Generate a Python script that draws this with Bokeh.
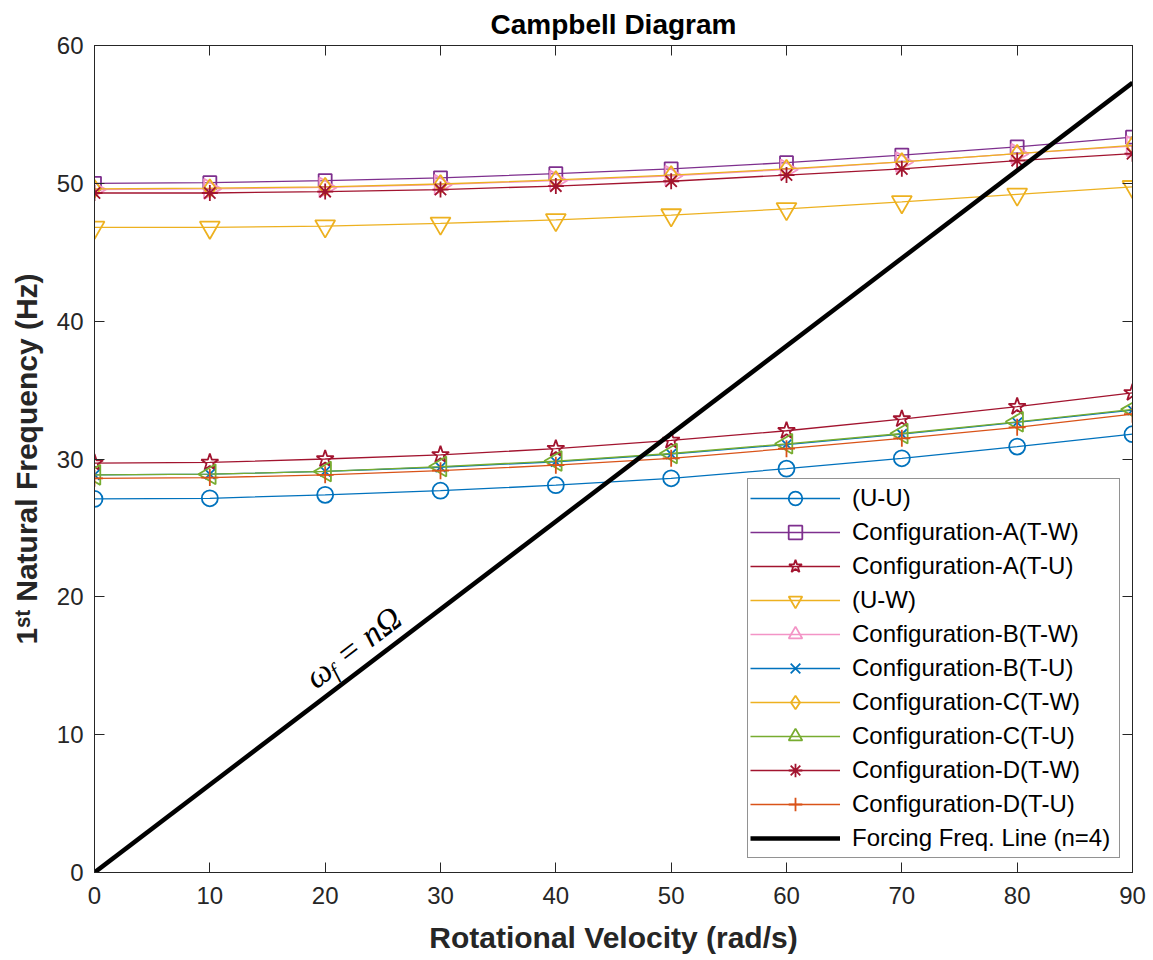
import math
from bokeh.plotting import figure
from bokeh.models import (LinearAxis, Legend, LegendItem, Label, FixedTicker,
                          Range1d)
from bokeh.embed import file_html
from bokeh.resources import INLINE

# ---------------- data ----------------
omega = [0, 10, 20, 30, 40, 50, 60, 70, 80, 90]

uu   = [27.10, 27.15, 27.40, 27.70, 28.10, 28.60, 29.30, 30.05, 30.90, 31.80]
a_tw = [50.00, 50.05, 50.20, 50.40, 50.70, 51.05, 51.50, 52.05, 52.65, 53.35]
a_tu = [29.70, 29.75, 30.00, 30.30, 30.75, 31.35, 32.05, 32.90, 33.80, 34.80]
uw   = [46.80, 46.80, 46.90, 47.10, 47.35, 47.70, 48.15, 48.65, 49.20, 49.75]
b_tw = [49.55, 49.60, 49.70, 49.90, 50.20, 50.55, 51.00, 51.55, 52.15, 52.70]
b_tu = [28.85, 28.90, 29.10, 29.40, 29.80, 30.35, 31.05, 31.80, 32.65, 33.55]
c_tw = [49.60, 49.65, 49.75, 49.95, 50.25, 50.60, 51.05, 51.55, 52.15, 52.75]
c_tu = [28.85, 28.90, 29.10, 29.45, 29.85, 30.40, 31.10, 31.85, 32.70, 33.60]
d_tw = [49.30, 49.30, 49.40, 49.55, 49.80, 50.15, 50.60, 51.05, 51.65, 52.15]
d_tu = [28.60, 28.65, 28.85, 29.15, 29.55, 30.05, 30.75, 31.50, 32.30, 33.25]

forcing_x = [0, 90]
forcing_y = [0, 57.3]

labels = ["(U-U)", "Configuration-A(T-W)", "Configuration-A(T-U)", "(U-W)",
          "Configuration-B(T-W)", "Configuration-B(T-U)", "Configuration-C(T-W)",
          "Configuration-C(T-U)", "Configuration-D(T-W)", "Configuration-D(T-U)"]
forcing_label = "Forcing Freq. Line (n=4)"

x_ticks = [0, 10, 20, 30, 40, 50, 60, 70, 80, 90]
y_ticks = [0, 10, 20, 30, 40, 50, 60]

# ---------------- styles ----------------
series = [uu, a_tw, a_tu, uw, b_tw, b_tu, c_tw, c_tu, d_tw, d_tu]
colors = ["#0072BD", "#7E2F8E", "#A2142F", "#EDB120", "#F394C6",
          "#0072BD", "#EDB120", "#77AC30", "#A2142F", "#D95319"]
markers = ["circle", "square", "star", "inverted_triangle", "triangle",
           "x", "diamond", "triangle", "asterisk", "cross"]
msizes = [16, 13, 18, 20, 20, 14, 18, 20, 16, 17]
angles = [0, 0, 0, 0, -math.pi / 2, 0, 0, math.pi / 2, 0, 0]

AX = "#262626"
FONT = "Liberation Sans"

p = figure(width=1147, height=958,
           x_range=Range1d(0, 90), y_range=Range1d(0, 60),
           output_backend="svg", toolbar_location=None,
           min_border_left=94, min_border_right=15,
           min_border_top=45, min_border_bottom=86,
           title="Campbell Diagram")

p.title.align = "center"
p.title.text_font = FONT
p.title.text_font_size = "28px"
p.title.text_font_style = "bold"
p.title.text_color = "#000000"
p.title.standoff = 12

p.xgrid.visible = False
p.ygrid.visible = False
p.outline_line_color = AX
p.outline_line_width = 1
p.background_fill_color = "white"
p.border_fill_color = "white"

p.xaxis.ticker = FixedTicker(ticks=x_ticks)
p.yaxis.ticker = FixedTicker(ticks=y_ticks)
p.xaxis.axis_label = "Rotational Velocity (rad/s)"
p.yaxis.axis_label = "1\u02e2\u1d57 Natural Frequency (Hz)"

for ax in (p.xaxis[0], p.yaxis[0]):
    ax.axis_line_color = AX
    ax.major_tick_line_color = AX
    ax.major_tick_in = 10
    ax.major_tick_out = 0
    ax.minor_tick_line_color = None
    ax.major_label_text_font = FONT
    ax.major_label_text_font_size = "24px"
    ax.major_label_text_color = AX
    ax.axis_label_text_font = FONT
    ax.axis_label_text_font_size = "30px"
    ax.axis_label_text_font_style = "bold"
    ax.axis_label_text_color = AX

p.xaxis.major_label_standoff = 14
p.xaxis.axis_label_standoff = 14
p.yaxis.major_label_standoff = 11
p.yaxis.axis_label_standoff = 11

top = LinearAxis(ticker=FixedTicker(ticks=x_ticks))
right = LinearAxis(ticker=FixedTicker(ticks=y_ticks))
for ax in (top, right):
    ax.axis_line_color = AX
    ax.major_tick_line_color = AX
    ax.major_tick_in = 10
    ax.major_tick_out = 0
    ax.minor_tick_line_color = None
    ax.major_label_text_font_size = "1px"
    ax.major_label_text_color = None
    ax.major_label_standoff = 0
p.add_layout(top, "above")
p.add_layout(right, "right")

items = []
for ys, c, m, s, a, lab in zip(series, colors, markers, msizes, angles, labels):
    r1 = p.line(omega, ys, line_color=c, line_width=1.3)
    r2 = p.scatter(omega, ys, marker=m, size=s, angle=a,
                   fill_color=None, line_color=c, line_width=1.8)
    items.append(LegendItem(label=lab, renderers=[r1, r2]))

rf = p.line(forcing_x, forcing_y, line_color="black", line_width=4.5)
items.append(LegendItem(label=forcing_label, renderers=[rf]))

legend = Legend(items=items, location=(653, 14),
                padding=2, spacing=0, glyph_width=90, glyph_height=34,
                label_height=34, label_width=265, label_standoff=12,
                label_text_font=FONT, label_text_font_size="24px",
                label_text_color="#000000",
                border_line_color=AX, border_line_width=1,
                background_fill_color="white", background_fill_alpha=1)
p.add_layout(legend)

# annotation  w_f = n Omega
ang = 37.3
ca, sa = math.cos(math.radians(ang)), math.sin(math.radians(ang))
lx, ly = 18.6, 13.9
parts = [("\u03c9", 0, 0, "34px"), ("f", 23, 8, "22px"), ("= n\u03a9", 38, 0, "34px")]
for txt, d, s, fs in parts:
    p.add_layout(Label(x=lx, y=ly, text=txt, angle=ang, angle_units="deg",
                       x_offset=d * ca + s * sa, y_offset=d * sa - s * ca,
                       text_font="Liberation Serif", text_font_style="italic",
                       text_font_size=fs, text_color="#000000",
                       text_align="left", text_baseline="alphabetic"))

open("out.html", "w").write(file_html(p, INLINE))
